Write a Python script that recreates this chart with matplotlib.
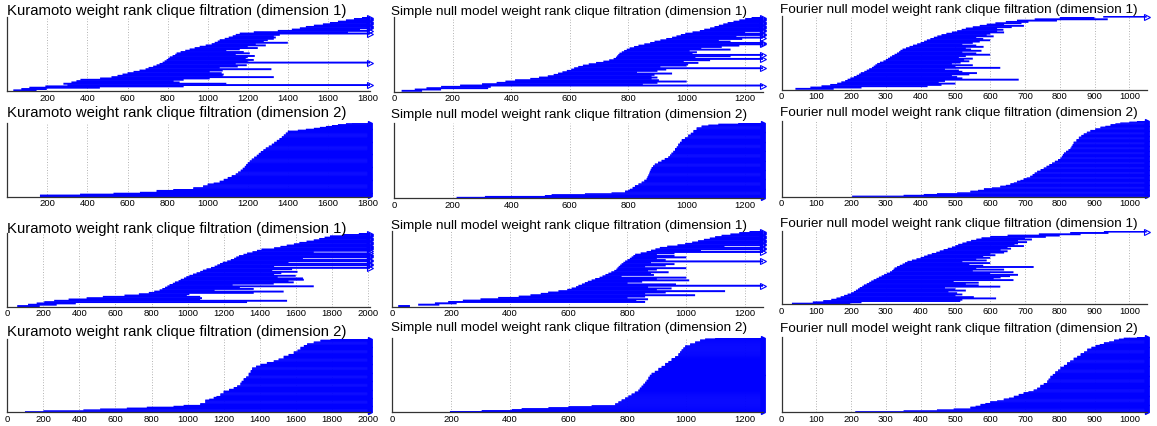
import numpy as np
import matplotlib
matplotlib.use("Agg")
import matplotlib.pyplot as plt
from matplotlib.collections import LineCollection

INF = np.inf
BLUE = "#0000ff"
W, H, DPI = 1157, 426, 100

# ---------------- dimension-1 barcodes (birth, death), sorted by birth ----------------
kura_a_d1_birth = [30, 70, 110, 190, 300, 280, 320, 345, 365, 463, 520, 550, 575, 600,
                   630, 660, 690, 705, 728, 745, 760, 775, 785, 795, 803, 811, 825, 838,
                   845, 865, 888, 910, 935, 960, 990, 1020, 1035, 1050, 1060, 1085, 1105,
                   1125, 1140, 1160, 1230, 1350, 1420, 1460, 1490, 1530, 1575, 1610, 1650,
                   1690, 1730, 1770]
kura_a_d1_death = [146, 197, 462, 880, INF, 1093, 860, 830, 880, 1010, 1330, 1075, 1080,
                   1070, 1010, 1075, 1318, 1060, 1150, 1195, 1140, INF, 1200, 1230, 1190,
                   1200, 1235, 1140, 1210, 1180, 1093, 1160, 1250, 1200, 1290, 1240, 1400,
                   1280, 1300, 1330, 1340, 1330, 1360, INF, 1700, INF, 1760, INF, INF, INF,
                   INF, INF, INF, INF, INF, INF]

simple_a_d1_birth = [25, 70, 110, 160, 225, 300, 350, 380, 413, 465, 495, 525, 545, 560,
                     575, 590, 605, 615, 629, 645, 665, 690, 715, 735, 750, 758, 762, 766,
                     770, 778, 786, 795, 805, 820, 835, 855, 875, 890, 910, 930, 950, 965,
                     980, 995, 1020, 1045, 1060, 1080, 1095, 1110, 1125, 1140, 1160, 1180,
                     1200, 1222]
simple_a_d1_death = [95, 160, 321, 330, INF, 850, 900, 1000, 905, 880, 900, 880, 890, 950,
                     830, 900, 930, INF, 910, 1000, 1005, 1040, 990, 1080, INF, 1030, 1150,
                     INF, 1020, 1035, 1010, 1150, 1050, 1120, 1180, INF, INF, 1150, 1110,
                     1190, INF, 1170, INF, INF, 1200, INF, INF, INF, INF, INF, INF, INF, INF,
                     INF, INF, INF]

fourier_a_d1_birth = [40, 83, 115, 140, 160, 172, 183, 190, 198, 208, 216, 223, 228, 238,
                      245, 252, 260, 265, 270, 275, 283, 293, 300, 306, 312, 318, 325, 332,
                      338, 342, 348, 358, 368, 378, 390, 400, 410, 418, 428, 438, 448, 460,
                      474, 490, 505, 518, 530, 550, 570, 590, 615, 645, 677, 728, 800, 925]
fourier_a_d1_death = [150, 230, 420, 460, 500, 452, 470, 682, 520, 505, 490, 540, 562, 520,
                      510, 470, 629, 500, 550, 490, 515, 540, 525, 550, 510, 530, 600, 560,
                      520, 575, 545, 530, 581, 560, 520, 550, 570, 600, 580, 560, 610, 590,
                      600, 640, 620, 638, 620, 662, 697, 640, 690, 710, 792, 938, 900, INF]

kura_b_d1_birth = [55, 115, 163, 205, 260, 340, 440, 530, 650, 730, 785, 815, 845, 860,
                   875, 888, 900, 918, 930, 950, 962, 980, 993, 1010, 1030, 1050, 1070,
                   1085, 1105, 1130, 1150, 1165, 1180, 1195, 1220, 1240, 1258, 1270, 1285,
                   1310, 1330, 1360, 1385, 1410, 1480, 1515, 1550, 1590, 1620, 1660, 1700,
                   1730, 1760, 1790, 1860, 1950]
kura_b_d1_death = [180, 274, 380, 1330, 1552, 1070, 1080, 1070, 996, 1010, 1367, 1533, 1150,
                   1367, 1290, 1700, 1250, 1478, 1589, 1560, 1645, 1640, 1500, 1600, 1480,
                   1520, 1610, 1470, 1580, INF, 1480, INF, INF, 1560, INF, INF, 1640, INF,
                   INF, INF, INF, 1700, INF, INF, INF, INF, INF, INF, INF, INF, INF, INF,
                   INF, INF, INF, INF]

simple_b_d1_birth = [20, 88, 145, 190, 240, 300, 360, 430, 470, 505, 530, 565, 595, 610,
                     625, 633, 645, 655, 665, 678, 690, 705, 715, 725, 735, 745, 755, 762,
                     766, 770, 775, 780, 786, 792, 800, 808, 814, 820, 826, 845, 865, 880,
                     895, 910, 935, 970, 996, 1020, 1040, 1060, 1080, 1098, 1120, 1150, 1180,
                     1215]
simple_b_d1_death = [60, 160, 219, 860, 830, 870, 800, 860, 1030, 860, 930, 1132, 900, 950,
                     870, INF, 965, 800, 850, 1010, 900, 1000, 780, 890, 880, 940, 870, 900,
                     1000, 860, 930, 960, 880, INF, 930, 900, 1000, 960, 900, 960, INF, 1050,
                     INF, INF, 1130, INF, INF, INF, INF, INF, INF, INF, INF, INF, INF, INF]

fourier_b_d1_birth = [30, 90, 120, 143, 158, 170, 180, 190, 200, 208, 214, 220, 225, 232,
                      237, 245, 252, 258, 265, 273, 280, 288, 295, 303, 312, 318, 322, 325,
                      332, 340, 348, 355, 362, 375, 388, 400, 410, 420, 432, 445, 455, 466,
                      478, 490, 500, 508, 520, 532, 545, 560, 575, 600, 650, 740, 830, 927]
fourier_b_d1_death = [198, 230, 514, 520, 617, 553, 500, 520, 505, 480, 530, 500, 470, 629,
                      567, 530, 567, 495, 667, 610, 630, 657, 680, 600, 667, 550, 640, 560,
                      725, 580, 540, 600, 520, 590, 560, 600, 580, 615, 600, 640, 650, 630,
                      660, 650, 697, 670, 680, 706, 680, 720, 700, 760, 800, 860, 940, INF]

# -------- dimension-2 barcodes: birth values and how many intervals share each --------
kura_a_d2_birth = [163, 363, 530, 662, 745, 828, 928, 977, 1000, 1030, 1060, 1080, 1100,
                   1120, 1140, 1152, 1165, 1175, 1185, 1192, 1200, 1210, 1220, 1232, 1245,
                   1255, 1265, 1278, 1290, 1305, 1320, 1332, 1345, 1358, 1370, 1380, 1390,
                   1400, 1450, 1490, 1530, 1560, 1590, 1620, 1650, 1690, 1720]
kura_a_d2_count = [2, 1, 1, 1, 2, 1, 2, 2, 2, 1, 2, 2, 2, 2, 2, 2, 2, 2, 2, 2, 2, 2, 2, 2,
                   2, 2, 2, 2, 2, 2, 2, 2, 2, 2, 2, 2, 2, 2, 1, 1, 1, 1, 1, 1, 1, 1, 1]

simple_a_d2_birth = [213, 310, 515, 538, 652, 743, 789, 800, 806, 815, 823, 835, 846, 855,
                     863, 866, 869, 872, 874, 877, 880, 885, 891, 902, 914, 925, 937, 943,
                     948, 954, 960, 966, 971, 977, 983, 994, 1005, 1014, 1023, 1034, 1051,
                     1074, 1108, 1176]
simple_a_d2_count = [1, 1, 1, 1, 1, 1, 2, 1, 1, 2, 2, 2, 2, 2, 2, 2, 2, 2, 2, 2, 2, 2, 2, 2,
                     2, 2, 2, 2, 2, 2, 3, 2, 3, 2, 3, 2, 3, 2, 3, 3, 2, 1, 1, 1]

fourier_a_d2_birth = [203, 351, 409, 447, 505, 543, 565, 582, 605, 629, 645, 658, 668, 677,
                      687, 696, 705, 715, 722, 728, 735, 745, 754, 762, 770, 778, 786, 795,
                      802, 806, 809, 812, 818, 825, 831, 834, 837, 840, 848, 855, 862, 869,
                      878, 888, 902, 917, 931, 946, 960, 974, 1000, 1022]
fourier_a_d2_count = [1, 1, 1, 1, 1, 2, 1, 2, 1, 2, 1, 2, 1, 2, 1, 2, 1, 2, 2, 2, 2, 2, 2,
                      2, 2, 2, 2, 2, 2, 2, 2, 2, 2, 2, 2, 2, 2, 3, 3, 3, 2, 2, 2, 2, 2, 2,
                      1, 2, 1, 1, 1, 1]

kura_b_d2_birth = [98, 200, 422, 515, 663, 774, 922, 978, 1070, 1098, 1120, 1145, 1160,
                   1182, 1200, 1230, 1256, 1275, 1293, 1300, 1311, 1325, 1339, 1350, 1358,
                   1380, 1404, 1440, 1478, 1505, 1533, 1560, 1589, 1610, 1626, 1645, 1663,
                   1700, 1737, 1793]
kura_b_d2_count = [1, 1, 1, 1, 1, 1, 1, 1, 2, 4, 1, 2, 1, 3, 3, 2, 2, 2, 3, 2, 3, 2, 4, 3,
                   3, 2, 2, 2, 2, 2, 3, 2, 3, 2, 3, 2, 2, 2, 2, 1]

simple_b_d2_birth = [196, 304, 406, 440, 531, 599, 678, 758, 769, 780, 792, 803, 814, 825,
                     837, 842, 848, 854, 860, 865, 871, 876, 882, 893, 905, 916, 928, 939,
                     950, 962, 973, 979, 984, 990, 996, 1013, 1030, 1047, 1064, 1098]
simple_b_d2_count = [1, 1, 1, 1, 1, 1, 1, 2, 2, 2, 2, 2, 2, 2, 2, 2, 2, 2, 2, 2, 3, 2, 2, 2,
                     3, 2, 3, 2, 3, 2, 3, 2, 2, 2, 2, 2, 2, 2, 1, 1]

fourier_b_d2_birth = [212, 351, 447, 495, 543, 558, 572, 586, 600, 620, 639, 654, 668, 682,
                      696, 710, 725, 735, 744, 754, 764, 768, 773, 780, 787, 795, 802, 812,
                      821, 830, 840, 850, 860, 870, 879, 891, 903, 915, 927, 942, 956, 970,
                      984, 1022]
fourier_b_d2_count = [1, 1, 1, 1, 2, 1, 2, 1, 2, 1, 2, 1, 2, 2, 2, 1, 2, 2, 3, 2, 3, 2, 3,
                      2, 3, 2, 3, 2, 3, 2, 3, 2, 3, 2, 3, 2, 2, 1, 2, 1, 2, 1, 1, 1]

# x-axis extents and tick labels per column
kura_a_xmax, kura_b_xmax, simple_xmax, fourier_xmax = 1810, 2012, 1262, 1050
kura_a_ticks = [200, 400, 600, 800, 1000, 1200, 1400, 1600, 1800]
kura_b_ticks = [0, 200, 400, 600, 800, 1000, 1200, 1400, 1600, 1800, 2000]
simple_ticks = [0, 200, 400, 600, 800, 1000, 1200]
fourier_ticks = [0, 100, 200, 300, 400, 500, 600, 700, 800, 900, 1000]

TITLE_K = "Kuramoto weight rank clique filtration (dimension {})"
TITLE_S = "Simple null model weight rank clique filtration (dimension {})"
TITLE_F = "Fourier null model weight rank clique filtration (dimension {})"

# pixel geometry: (left, right, top, bottom) of each axes, and title anchor (x, baseline)
panels = [
    # row 1
    dict(title=TITLE_K.format(1), b=kura_a_d1_birth, d=kura_a_d1_death, xmax=kura_a_xmax,
         ticks=kura_a_ticks, box=(7.3, 370, 17, 91), tpos=(7, 15.5), tsize=10.7),
    dict(title=TITLE_S.format(1), b=simple_a_d1_birth, d=simple_a_d1_death, xmax=simple_xmax,
         ticks=simple_ticks, box=(394.3, 763.3, 17, 91.5), tpos=(391, 15), tsize=9.7),
    dict(title=TITLE_F.format(1), b=fourier_a_d1_birth, d=fourier_a_d1_death, xmax=fourier_xmax,
         ticks=fourier_ticks, box=(781.5, 1146.7, 16, 89.5), tpos=(780, 13.3), tsize=9.7),
    # row 2
    dict(title=TITLE_K.format(2), b=kura_a_d2_birth, c=kura_a_d2_count, xmax=kura_a_xmax,
         ticks=kura_a_ticks, box=(7.3, 370, 122.5, 196.7), tpos=(7, 116.7), tsize=10.7),
    dict(title=TITLE_S.format(2), b=simple_a_d2_birth, c=simple_a_d2_count, xmax=simple_xmax,
         ticks=simple_ticks, box=(394.3, 763.3, 123, 198), tpos=(391, 118.3), tsize=9.7),
    dict(title=TITLE_F.format(2), b=fourier_a_d2_birth, c=fourier_a_d2_count, xmax=fourier_xmax,
         ticks=fourier_ticks, box=(781.5, 1146.7, 121, 196.7), tpos=(780, 115.7), tsize=9.7),
    # row 3
    dict(title=TITLE_K.format(1), b=kura_b_d1_birth, d=kura_b_d1_death, xmax=kura_b_xmax,
         ticks=kura_b_ticks, box=(7.3, 370, 233, 306.7), tpos=(7, 232.7), tsize=10.7),
    dict(title=TITLE_S.format(1), b=simple_b_d1_birth, d=simple_b_d1_death, xmax=simple_xmax,
         ticks=simple_ticks, box=(392.3, 763.3, 231, 306.7), tpos=(391, 229.3), tsize=9.7),
    dict(title=TITLE_F.format(1), b=fourier_b_d1_birth, d=fourier_b_d1_death, xmax=fourier_xmax,
         ticks=fourier_ticks, box=(781.5, 1146.7, 231, 304.3), tpos=(780, 226.7), tsize=9.7),
    # row 4
    dict(title=TITLE_K.format(2), b=kura_b_d2_birth, c=kura_b_d2_count, xmax=kura_b_xmax,
         ticks=kura_b_ticks, box=(7.3, 370, 339, 412.3), tpos=(7, 336), tsize=10.7),
    dict(title=TITLE_S.format(2), b=simple_b_d2_birth, c=simple_b_d2_count, xmax=simple_xmax,
         ticks=simple_ticks, box=(392.3, 763.3, 337.7, 412.3), tpos=(391, 331), tsize=9.7),
    dict(title=TITLE_F.format(2), b=fourier_b_d2_birth, c=fourier_b_d2_count, xmax=fourier_xmax,
         ticks=fourier_ticks, box=(781.5, 1146.7, 337, 412.3), tpos=(780, 331.7), tsize=9.7),
]

plt.rcParams["font.family"] = ["Liberation Sans", "DejaVu Sans"]

fig = plt.figure(figsize=(W / DPI, H / DPI), dpi=DPI)


def draw_barcode(ax, births, deaths, xmax, row_px, filled):
    n = len(births)
    lw = row_px * 72.0 / DPI * (1.6 if filled else 1.45)
    ends = [min(d, xmax) for d in deaths]
    segs = [[(b, i), (e, i)] for i, (b, e) in enumerate(zip(births, ends))]
    lc = LineCollection(segs, colors=BLUE, linewidths=lw, capstyle="butt",
                        antialiaseds=True)
    lc.set_snap(False)
    ax.add_collection(lc)
    inf_rows = [i for i, d in enumerate(deaths) if not np.isfinite(d)]
    if inf_rows:
        ax.plot([xmax] * len(inf_rows), inf_rows, linestyle="none", marker=">",
                ms=3.0 if filled else 4.2, mec=BLUE, mew=0.8,
                mfc=BLUE if filled else "none", clip_on=False)
    ax.set_ylim(-0.5, n - 0.5)


for p in panels:
    left, right, top, bottom = p["box"]
    ax = fig.add_axes([left / W, 1 - bottom / H, (right - left) / W, (bottom - top) / H])
    if "c" in p:
        births = np.repeat(p["b"], p["c"])
        deaths = [INF] * len(births)
        filled = True
    else:
        births = np.asarray(p["b"], dtype=float)
        deaths = p["d"]
        filled = False
    row_px = (bottom - top) / len(births)
    draw_barcode(ax, births, deaths, p["xmax"], row_px, filled)
    ax.set_xlim(0, p["xmax"])
    ax.set_xticks(p["ticks"])
    ax.set_xticklabels([str(t) for t in p["ticks"]], fontsize=6.8)
    ax.tick_params(axis="x", length=0, pad=2.0)
    ax.set_yticks([])
    ax.grid(axis="x", linestyle=(0, (1, 2.2)), color="#9a9a9a", linewidth=0.6)
    ax.set_axisbelow(True)
    for s in ("top", "right"):
        ax.spines[s].set_visible(False)
    ax.spines["left"].set_color("#333333")
    ax.spines["bottom"].set_color("#333333")
    ax.spines["left"].set_linewidth(0.9)
    ax.spines["bottom"].set_linewidth(0.9)
    ax.patch.set_alpha(0)
    fig.text(p["tpos"][0] / W, 1 - p["tpos"][1] / H, p["title"], ha="left", va="baseline",
             fontsize=p["tsize"], color="black")

fig.savefig("out.png", dpi=DPI, facecolor="white")
